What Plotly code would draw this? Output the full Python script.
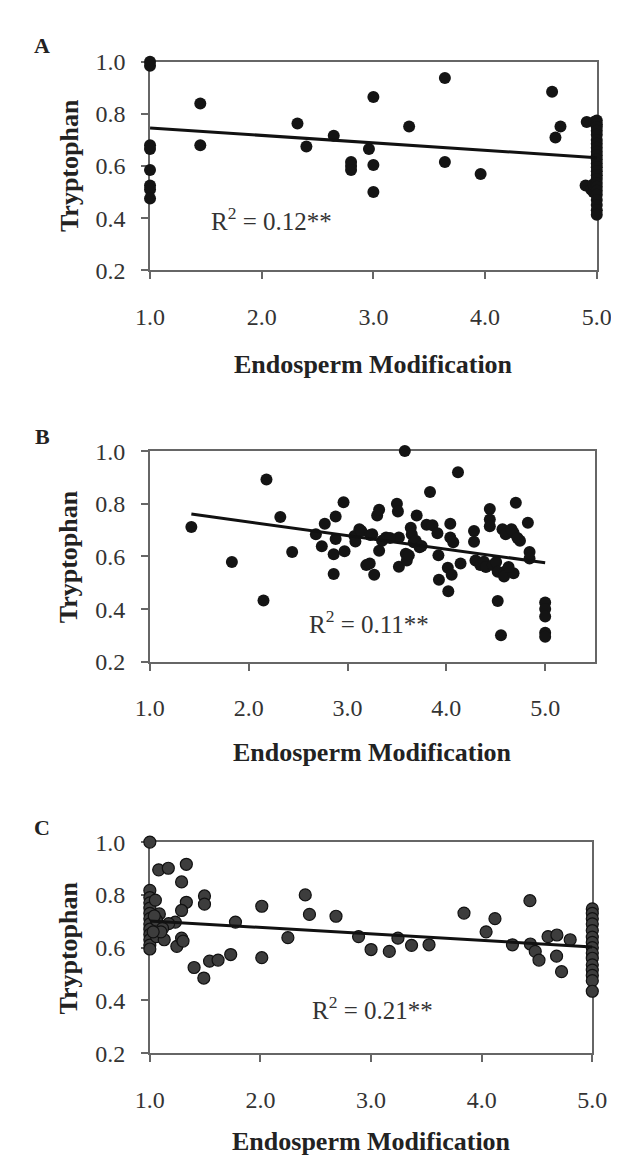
import plotly.graph_objects as go

W, H = 619, 1156

# ---------------- data ----------------
a_x = [1.0, 1.0, 1.0, 1.0, 1.0, 1.0, 1.0, 1.0,
       1.45, 1.45,
       2.32, 2.40, 2.645, 2.80, 2.80, 2.80,
       2.96, 3.0, 3.0, 3.0,
       3.32, 3.64, 3.64, 3.96,
       4.60, 4.63, 4.675,
       4.91, 4.98, 4.90, 4.95, 4.97, 4.97,
       5.0, 5.0, 5.0, 5.0, 5.0, 5.0, 5.0, 5.0, 5.0, 5.0, 5.0, 5.0,
       5.0, 5.0, 5.0, 5.0, 5.0, 5.0, 5.0, 5.0, 5.0, 5.0, 5.0, 5.0]
a_y = [1.0, 0.985, 0.68, 0.665, 0.585, 0.525, 0.51, 0.475,
       0.84, 0.68,
       0.763, 0.675, 0.716, 0.615, 0.60, 0.585,
       0.665, 0.865, 0.604, 0.50,
       0.752, 0.938, 0.615, 0.569,
       0.885, 0.709, 0.752,
       0.769, 0.77, 0.525, 0.51, 0.50, 0.53,
       0.775, 0.76, 0.75, 0.735, 0.72, 0.70, 0.685, 0.67, 0.655, 0.64, 0.625, 0.61,
       0.595, 0.58, 0.565, 0.55, 0.535, 0.52, 0.505, 0.49, 0.47, 0.45, 0.43, 0.413]

b_x = [1.42, 1.83, 2.15, 2.18, 2.32, 2.44,
       2.68, 2.74, 2.77, 2.88, 2.88, 2.86, 2.86, 2.96, 2.97,
       3.07, 3.08, 3.12, 3.14, 3.19, 3.23, 3.225, 3.25, 3.27,
       3.30, 3.32, 3.32, 3.39, 3.50, 3.51, 3.52, 3.52, 3.35, 3.43,
       3.58, 3.59, 3.60, 3.62, 3.64, 3.65, 3.67, 3.70, 3.69, 3.73, 3.75,
       3.80, 3.835, 3.86, 3.91, 3.92, 3.925,
       4.02, 4.015, 4.04, 4.04, 4.07, 4.054, 4.118, 4.144,
       4.28, 4.28, 4.295, 4.343, 4.38, 4.40,
       4.44, 4.44, 4.44, 4.47, 4.504, 4.52, 4.52, 4.553,
       4.568, 4.59, 4.60, 4.68, 4.703, 4.66, 4.584, 4.68, 4.745, 4.63, 4.72,
       4.825, 4.842, 4.842,
       5.0, 5.0, 5.0, 5.0, 5.0]
b_y = [0.712, 0.579, 0.433, 0.892, 0.750, 0.617,
       0.684, 0.639, 0.724, 0.752, 0.666, 0.608, 0.533, 0.806, 0.620,
       0.678, 0.657, 0.703, 0.697, 0.567, 0.681, 0.573, 0.684, 0.530,
       0.755, 0.777, 0.622, 0.672, 0.800, 0.771, 0.672, 0.561, 0.660, 0.670,
       1.0, 0.610, 0.585, 0.604, 0.709, 0.684, 0.654, 0.755, 0.660, 0.635, 0.640,
       0.720, 0.845, 0.718, 0.688, 0.604, 0.511,
       0.468, 0.557, 0.724, 0.672, 0.654, 0.530, 0.920, 0.573,
       0.697, 0.656, 0.585, 0.567, 0.580, 0.560,
       0.780, 0.740, 0.715, 0.567, 0.579, 0.542, 0.431, 0.301,
       0.703, 0.542, 0.684, 0.690, 0.804, 0.703, 0.524, 0.536, 0.660, 0.560, 0.670,
       0.728, 0.617, 0.592,
       0.425, 0.400, 0.372, 0.310, 0.295]

c_x = [1.0, 1.0, 1.0, 1.0, 1.0, 1.0, 1.0, 1.0, 1.0, 1.0, 1.0, 1.0, 1.0,
       1.05, 1.086, 1.06, 1.06, 1.08, 1.167, 1.33, 1.287, 1.33, 1.287, 1.23,
       1.17, 1.115, 1.13, 1.244, 1.287, 1.30, 1.10, 1.03, 1.04,
       1.494, 1.494, 1.40, 1.488, 1.54, 1.617, 1.731, 1.774,
       2.012, 2.012, 2.248, 2.405, 2.443, 2.683, 2.887,
       3.0, 3.165, 3.243, 3.366, 3.524, 3.84, 4.04, 4.12, 4.278, 4.436,
       4.44, 4.484, 4.518, 4.6, 4.68, 4.677, 4.722, 4.80,
       5.0, 5.0, 5.0, 5.0, 5.0, 5.0, 5.0, 5.0, 5.0, 5.0, 5.0, 5.0, 5.0, 5.0, 5.0]
c_y = [1.0, 0.817, 0.79, 0.77, 0.75, 0.73, 0.71, 0.69, 0.67, 0.65, 0.63, 0.61, 0.595,
       0.78, 0.728, 0.704, 0.642, 0.895, 0.901, 0.916, 0.849, 0.772, 0.741, 0.697,
       0.691, 0.673, 0.63, 0.605, 0.636, 0.625, 0.66, 0.66, 0.72,
       0.796, 0.765, 0.525, 0.485, 0.549, 0.553, 0.574, 0.697,
       0.757, 0.562, 0.638, 0.80, 0.726, 0.719, 0.642,
       0.593, 0.586, 0.636, 0.609, 0.611, 0.731, 0.66, 0.71, 0.611, 0.778,
       0.614, 0.586, 0.553, 0.642, 0.648, 0.568, 0.509, 0.63,
       0.747, 0.73, 0.71, 0.69, 0.665, 0.64, 0.62, 0.60, 0.58, 0.56, 0.535, 0.515,
       0.495, 0.475, 0.435]

# fitted trend lines (end points)
a_fit_x = [1.0, 5.0]
a_fit_y = [0.746, 0.632]
b_fit_x = [1.42, 5.0]
b_fit_y = [0.761, 0.576]
c_fit_x = [1.0, 5.0]
c_fit_y = [0.701, 0.603]

r2_labels = ["R<sup>2</sup> = 0.12**", "R<sup>2</sup> = 0.11**", "R<sup>2</sup> = 0.21**"]
r2_pos = [(2.09, 0.395), (3.22, 0.35), (3.01, 0.37)]
panel_letters = ["A", "B", "C"]
x_ranges = [[1.0, 5.0], [1.0, 5.5], [1.0, 5.0]]
x_ticks = [1.0, 2.0, 3.0, 4.0, 5.0]
y_ticks = [0.2, 0.4, 0.6, 0.8, 1.0]
x_title = "Endosperm Modification"
y_title = "Tryptophan"

# ---------------- layout geometry (pixels) ----------------
boxes = [  # left, right, top, bottom
    (133.5, 603.0, 41.7, 255.0),
    (133.3, 600.7, 440.0, 655.5),
    (133.3, 598.3, 840.0, 1056.0),
]
letter_y = [25.5, 425.0, 825.5]
xtitle_shift = [-94, -91, -88]

FONT = "Liberation Serif, Times New Roman, serif"
series = [(a_x, a_y, a_fit_x, a_fit_y), (b_x, b_y, b_fit_x, b_fit_y), (c_x, c_y, c_fit_x, c_fit_y)]
marker_styles = [
    dict(color="#141414", size=12, line=dict(width=0)),
    dict(color="#141414", size=12, line=dict(width=0)),
    dict(color="#3d3d3d", size=12, line=dict(width=1.2, color="#111111")),
]

fig = go.Figure()
layout = dict(width=W, height=H, margin=dict(l=0, r=0, t=0, b=0),
              plot_bgcolor="white", paper_bgcolor="white", showlegend=False,
              font=dict(family=FONT, color="#333333"))
annotations = []

for i, ((xs, ys, fx, fy), (l, r, t, b)) in enumerate(zip(series, boxes)):
    sx = "" if i == 0 else str(i + 1)
    xa, ya = "x" + sx, "y" + sx
    fig.add_trace(go.Scatter(x=xs, y=ys, mode="markers", marker=marker_styles[i],
                             xaxis=xa, yaxis=ya, cliponaxis=False, hoverinfo="skip"))
    fig.add_trace(go.Scatter(x=fx, y=fy, mode="lines", line=dict(color="#111111", width=3),
                             xaxis=xa, yaxis=ya, cliponaxis=False, hoverinfo="skip"))
    layout["xaxis" + sx] = dict(
        domain=[l / W, r / W], range=x_ranges[i], anchor=ya,
        tickvals=x_ticks, tickformat=".1f", ticks="outside", ticklen=7, tickwidth=1.5,
        tickcolor="#666666", showline=True, linecolor="#666666", linewidth=1.5, mirror=True,
        showgrid=False, zeroline=False, layer="below traces",
        tickfont=dict(family=FONT, size=24, color="#333333"), ticklabelstandoff=17)
    layout["yaxis" + sx] = dict(
        domain=[1 - b / H, 1 - t / H], range=[0.2, 1.0], anchor=xa,
        tickvals=y_ticks, tickformat=".1f", ticks="outside", ticklen=7, tickwidth=1.5,
        tickcolor="#666666", showline=True, linecolor="#666666", linewidth=1.5, mirror=True,
        showgrid=False, zeroline=False, layer="below traces",
        tickfont=dict(family=FONT, size=24, color="#333333"), ticklabelstandoff=11)
    # R^2 label
    annotations.append(dict(x=r2_pos[i][0], y=r2_pos[i][1], xref=xa, yref=ya,
                            text=r2_labels[i], showarrow=False, xanchor="center", yanchor="middle",
                            font=dict(family=FONT, size=25, color="#333333")))
    # x-axis title
    annotations.append(dict(x=0.5, y=0, xref=xa + " domain", yref=ya + " domain",
                            text="<b>" + x_title + "</b>", showarrow=False,
                            xanchor="center", yanchor="middle", yshift=xtitle_shift[i],
                            font=dict(family=FONT, size=26, color="#222222")))
    # y-axis title
    annotations.append(dict(x=0, y=0.5, xref=xa + " domain", yref=ya + " domain",
                            text="<b>" + y_title + "</b>", showarrow=False, textangle=-90,
                            xanchor="center", yanchor="middle", xshift=-81,
                            font=dict(family=FONT, size=26, color="#222222")))
    # panel letter
    annotations.append(dict(x=20 / W, y=1 - letter_y[i] / H, xref="paper", yref="paper",
                            text="<b>" + panel_letters[i] + "</b>", showarrow=False,
                            xanchor="center", yanchor="middle",
                            font=dict(family=FONT, size=22, color="#222222")))

layout["annotations"] = annotations
fig.update_layout(**layout)
fig.write_html("out.html")
